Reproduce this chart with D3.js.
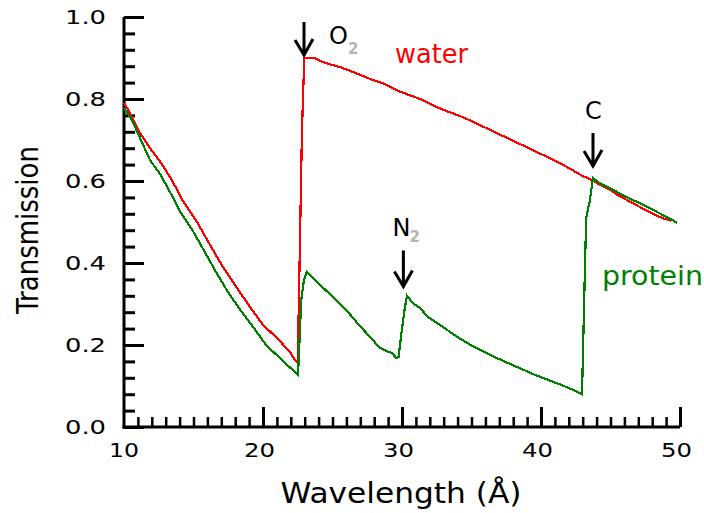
<!DOCTYPE html>
<html><head><meta charset="utf-8">
<script src="https://cdn.jsdelivr.net/npm/d3@7"></script>
<style>html,body{margin:0;padding:0;background:#fff;} svg{display:block;}</style>
</head><body><svg id="c" width="704" height="513"></svg>
<script>
// ---- data ----
const waterWavelength = [10, 10.43, 11.15, 11.87, 12.73, 13.45, 14.24, 15.25, 16.19, 17.12, 18.13, 19.06, 20.0, 21.0, 21.94, 22.3, 22.5, 22.6, 22.8, 22.97, 23.7, 24.1, 24.5, 25.7, 27.0, 27.9, 28.6, 29.7, 31.3, 32.5, 34.5, 35.5, 36.5, 37.5, 38.5, 39.5, 40.6, 41.5, 42.5, 43.0, 43.5, 44.2, 45.0, 45.5, 46.5, 47.8, 48.7, 49.4];
const waterTransmission = [0.79, 0.766, 0.717, 0.68, 0.641, 0.602, 0.551, 0.50, 0.444, 0.39, 0.339, 0.293, 0.249, 0.217, 0.183, 0.163, 0.158, 0.34, 0.72, 0.90, 0.90, 0.893, 0.888, 0.876, 0.859, 0.846, 0.839, 0.82, 0.80, 0.78, 0.754, 0.738, 0.722, 0.706, 0.69, 0.674, 0.656, 0.641, 0.622, 0.612, 0.605, 0.592, 0.578, 0.566, 0.548, 0.524, 0.510, 0.503];
const proteinWavelength = [10, 10.57, 11.15, 11.87, 12.59, 13.31, 14.1, 14.96, 15.61, 16.62, 17.48, 18.49, 19.35, 20.22, 21.37, 22.3, 22.52, 22.6, 22.75, 22.95, 23.15, 24, 25, 26, 27, 27.7, 28.4, 28.9, 29.28, 29.6, 29.75, 30.0, 30.2, 30.36, 30.8, 31.3, 31.87, 32.5, 32.95, 33.45, 33.96, 34.68, 35.5, 36.5, 37.5, 38.5, 39.5, 40.5, 41.5, 42.5, 42.95, 43.1, 43.25, 43.5, 43.74, 44.2, 44.96, 46.0, 47.1, 48.2, 49.06, 49.8];
const proteinTransmission = [0.778, 0.749, 0.705, 0.651, 0.617, 0.573, 0.522, 0.478, 0.439, 0.378, 0.329, 0.28, 0.241, 0.200, 0.163, 0.134, 0.127, 0.19, 0.31, 0.36, 0.378, 0.35, 0.318, 0.285, 0.245, 0.22, 0.193, 0.185, 0.18, 0.168, 0.17, 0.24, 0.29, 0.32, 0.302, 0.29, 0.268, 0.254, 0.244, 0.232, 0.22, 0.205, 0.19, 0.173, 0.158, 0.143, 0.128, 0.115, 0.102, 0.088, 0.08, 0.30, 0.51, 0.55, 0.607, 0.595, 0.583, 0.563, 0.546, 0.527, 0.512, 0.498];

const xMajorTicks = [10, 20, 30, 40, 50];
const xMinorTicks = d3.range(11, 50).filter(v => v % 10 !== 0);
const yMajorTicks = [0, 0.2, 0.4, 0.6, 0.8, 1.0];
const yMinorTicks = d3.range(1, 25).filter(i => i % 5 !== 0).map(i => i * 0.04);

const edgeLabels = ["O", "N", "C"];
const edgeSubscripts = ["2", "2", ""];
const edgeWavelengths = [22.95, 30.1, 43.74];
const edgeArrowTips = [0.905, 0.34, 0.634];

const seriesNames = ["water", "protein"];
const seriesColors = ["#ff0000", "#008000"];
const xTitle = "Wavelength (Å)";
const yTitle = "Transmission";

// ---- chart ----
const svg = d3.select("#c");
const x = d3.scaleLinear().domain([10, 50]).range([124, 680]);
const y = d3.scaleLinear().domain([0, 1]).range([427, 17]);
const FONT = "'DejaVu Sans', Verdana, sans-serif";

// y axis
const yAxisMajor = d3.axisLeft(y).tickValues(yMajorTicks).tickSize(-20).tickSizeOuter(0).tickPadding(18).tickFormat(d3.format(".1f"));
const gy = svg.append("g").attr("transform", `translate(${x(10)},0)`).call(yAxisMajor);
gy.select(".domain").remove();
gy.selectAll(".tick line").attr("stroke", "#000").attr("stroke-width", 3);
gy.selectAll(".tick text").attr("font-family", FONT).attr("font-size", 20).attr("fill", "#000")
  .attr("textLength", 41).attr("lengthAdjust", "spacingAndGlyphs");
const gyMinor = svg.append("g").attr("transform", `translate(${x(10)},0)`)
  .call(d3.axisLeft(y).tickValues(yMinorTicks).tickSize(-11).tickSizeOuter(0).tickFormat(""));
gyMinor.select(".domain").remove();
gyMinor.selectAll(".tick line").attr("stroke", "#000").attr("stroke-width", 3);

// x axis
const xAxisMajor = d3.axisBottom(x).tickValues(xMajorTicks.slice(1)).tickSize(-20).tickSizeOuter(0).tickPadding(16).tickFormat(d3.format("d"));
const gx = svg.append("g").attr("transform", `translate(0,${y(0)})`).call(xAxisMajor);
gx.select(".domain").remove();
gx.selectAll(".tick line").attr("stroke", "#000").attr("stroke-width", 3);
gx.selectAll(".tick text").attr("font-family", FONT).attr("font-size", 20).attr("fill", "#000")
  .attr("dx", -4).attr("textLength", 31).attr("lengthAdjust", "spacingAndGlyphs");
const gxMinor = svg.append("g").attr("transform", `translate(0,${y(0)})`)
  .call(d3.axisBottom(x).tickValues(xMinorTicks).tickSize(-10).tickSizeOuter(0).tickFormat(""));
gxMinor.select(".domain").remove();
gxMinor.selectAll(".tick line").attr("stroke", "#000").attr("stroke-width", 2.5);
// label "10" under the y axis
svg.append("text").attr("x", x(10)).attr("y", y(0) + 16).attr("dy", "0.71em")
  .attr("text-anchor", "middle").attr("font-family", FONT).attr("font-size", 20)
  .attr("textLength", 30).attr("lengthAdjust", "spacingAndGlyphs").text(d3.format("d")(xMajorTicks[0]));

// axis lines
svg.append("line").attr("x1", x(10)).attr("x2", x(10)).attr("y1", y(1)).attr("y2", y(0) + 1.5)
  .attr("stroke", "#000").attr("stroke-width", 3);
svg.append("line").attr("x1", x(10) - 1.5).attr("x2", x(50)).attr("y1", y(0)).attr("y2", y(0))
  .attr("stroke", "#000").attr("stroke-width", 3);

// series
const line = d3.line().x(d => x(d[0])).y(d => y(d[1]));
const waterData = d3.zip(waterWavelength, waterTransmission);
const proteinData = d3.zip(proteinWavelength, proteinTransmission);
[waterData, proteinData].forEach((data, i) => {
  svg.append("path").datum(data).attr("d", line).attr("fill", "none")
    .attr("stroke", seriesColors[i]).attr("stroke-width", 2.2)
    .attr("stroke-linejoin", "miter").attr("shape-rendering", "crispEdges");
});

// series labels
svg.append("text").attr("x", 395).attr("y", 63).attr("fill", seriesColors[0])
  .attr("font-family", FONT).attr("font-size", 26).attr("textLength", 73)
  .attr("lengthAdjust", "spacingAndGlyphs").text(seriesNames[0]);
svg.append("text").attr("x", 602).attr("y", 285).attr("fill", seriesColors[1])
  .attr("font-family", FONT).attr("font-size", 26).attr("textLength", 101)
  .attr("lengthAdjust", "spacingAndGlyphs").text(seriesNames[1]);

// edge arrows and labels
const labelOffsets = [[25, -12], [-11, -52], [-8, -48]]; // label position relative to arrow tip
edgeLabels.forEach((lab, i) => {
  const ax = x(edgeWavelengths[i]), ty = y(edgeArrowTips[i]);
  const len = i === 1 ? 37 : 34;
  svg.append("path")
    .attr("d", `M${ax},${ty - len} L${ax},${ty} M${ax - 9},${ty - 16} L${ax},${ty - 1} L${ax + 9},${ty - 17}`)
    .attr("fill", "none").attr("stroke", "#000").attr("stroke-width", 3)
    .attr("stroke-linejoin", "miter");
  const t = svg.append("text").attr("x", ax + labelOffsets[i][0]).attr("y", ty + labelOffsets[i][1])
    .attr("font-family", FONT).attr("font-size", 24).attr("fill", "#000").text(lab);
  if (edgeSubscripts[i]) {
    svg.append("text").attr("x", ax + labelOffsets[i][0] + (i === 0 ? 19 : 17))
      .attr("y", ty + labelOffsets[i][1] + (i === 0 ? 10 : 6))
      .attr("font-family", FONT).attr("font-size", 15).attr("font-weight", "bold")
      .attr("fill", "#b4b4b4").text(edgeSubscripts[i]);
  }
});

// axis titles
svg.append("text").attr("transform", `translate(38,${(y(0) + y(1)) / 2 + 8}) rotate(-90)`)
  .attr("text-anchor", "middle").attr("font-family", FONT).attr("font-size", 30)
  .attr("textLength", 168).attr("lengthAdjust", "spacingAndGlyphs").text(yTitle);
svg.append("text").attr("x", 401).attr("y", 503)
  .attr("text-anchor", "middle").attr("font-family", FONT).attr("font-size", 29)
  .attr("textLength", 241).attr("lengthAdjust", "spacingAndGlyphs").text(xTitle);
</script>
</body></html>
